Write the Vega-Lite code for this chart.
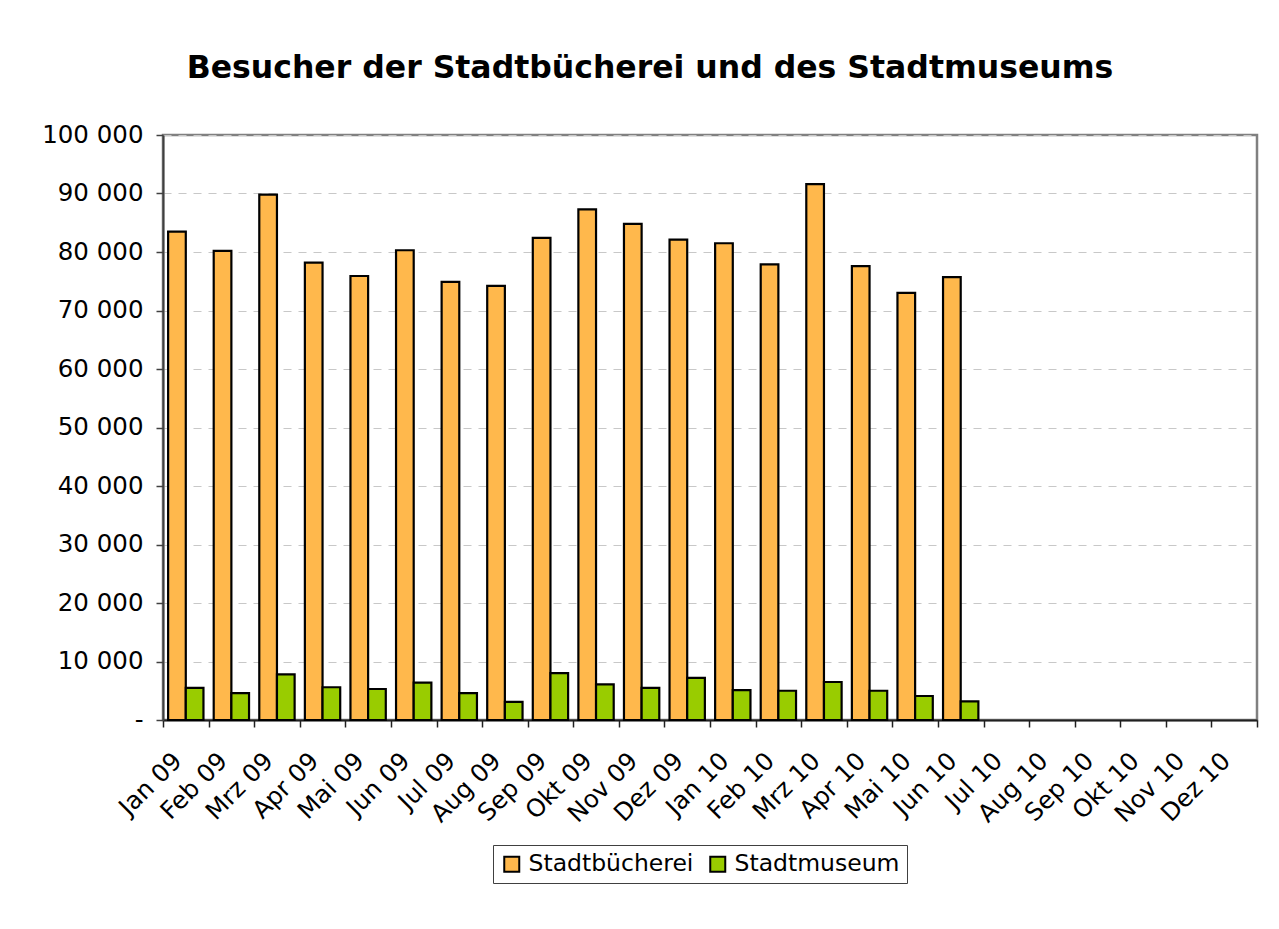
{
  "$schema": "https://vega.github.io/schema/vega-lite/v6.json",
  "width": 1094,
  "height": 585,
  "autosize": "none",
  "padding": {"left": 163, "top": 135, "right": 22, "bottom": 209},
  "background": "white",
  "title": {
    "text": "Besucher der Stadtbücherei und des Stadtmuseums",
    "font": "DejaVu Sans",
    "fontSize": 31.5,
    "fontWeight": "bold",
    "color": "black",
    "anchor": "middle",
    "dx": -60,
    "offset": 38
  },
  "data": {
    "values": [
      {"monat": "Jan 09", "einrichtung": "Stadtbücherei", "besucher": 83500},
      {"monat": "Feb 09", "einrichtung": "Stadtbücherei", "besucher": 80200},
      {"monat": "Mrz 09", "einrichtung": "Stadtbücherei", "besucher": 89800},
      {"monat": "Apr 09", "einrichtung": "Stadtbücherei", "besucher": 78200},
      {"monat": "Mai 09", "einrichtung": "Stadtbücherei", "besucher": 75900},
      {"monat": "Jun 09", "einrichtung": "Stadtbücherei", "besucher": 80300},
      {"monat": "Jul 09", "einrichtung": "Stadtbücherei", "besucher": 74900},
      {"monat": "Aug 09", "einrichtung": "Stadtbücherei", "besucher": 74200},
      {"monat": "Sep 09", "einrichtung": "Stadtbücherei", "besucher": 82400},
      {"monat": "Okt 09", "einrichtung": "Stadtbücherei", "besucher": 87300},
      {"monat": "Nov 09", "einrichtung": "Stadtbücherei", "besucher": 84800},
      {"monat": "Dez 09", "einrichtung": "Stadtbücherei", "besucher": 82100},
      {"monat": "Jan 10", "einrichtung": "Stadtbücherei", "besucher": 81500},
      {"monat": "Feb 10", "einrichtung": "Stadtbücherei", "besucher": 77900},
      {"monat": "Mrz 10", "einrichtung": "Stadtbücherei", "besucher": 91600},
      {"monat": "Apr 10", "einrichtung": "Stadtbücherei", "besucher": 77600},
      {"monat": "Mai 10", "einrichtung": "Stadtbücherei", "besucher": 73000},
      {"monat": "Jun 10", "einrichtung": "Stadtbücherei", "besucher": 75700},
      {"monat": "Jan 09", "einrichtung": "Stadtmuseum", "besucher": 5500},
      {"monat": "Feb 09", "einrichtung": "Stadtmuseum", "besucher": 4600},
      {"monat": "Mrz 09", "einrichtung": "Stadtmuseum", "besucher": 7800},
      {"monat": "Apr 09", "einrichtung": "Stadtmuseum", "besucher": 5600},
      {"monat": "Mai 09", "einrichtung": "Stadtmuseum", "besucher": 5300},
      {"monat": "Jun 09", "einrichtung": "Stadtmuseum", "besucher": 6400},
      {"monat": "Jul 09", "einrichtung": "Stadtmuseum", "besucher": 4600},
      {"monat": "Aug 09", "einrichtung": "Stadtmuseum", "besucher": 3100},
      {"monat": "Sep 09", "einrichtung": "Stadtmuseum", "besucher": 8000},
      {"monat": "Okt 09", "einrichtung": "Stadtmuseum", "besucher": 6100},
      {"monat": "Nov 09", "einrichtung": "Stadtmuseum", "besucher": 5500},
      {"monat": "Dez 09", "einrichtung": "Stadtmuseum", "besucher": 7200},
      {"monat": "Jan 10", "einrichtung": "Stadtmuseum", "besucher": 5100},
      {"monat": "Feb 10", "einrichtung": "Stadtmuseum", "besucher": 5000},
      {"monat": "Mrz 10", "einrichtung": "Stadtmuseum", "besucher": 6500},
      {"monat": "Apr 10", "einrichtung": "Stadtmuseum", "besucher": 5000},
      {"monat": "Mai 10", "einrichtung": "Stadtmuseum", "besucher": 4100},
      {"monat": "Jun 10", "einrichtung": "Stadtmuseum", "besucher": 3200}
    ]
  },
  "mark": {"type": "bar", "stroke": "black", "strokeWidth": 2.2},
  "encoding": {
    "x": {
      "field": "monat",
      "type": "nominal",
      "scale": {
        "domain": ["Jan 09", "Feb 09", "Mrz 09", "Apr 09", "Mai 09", "Jun 09", "Jul 09", "Aug 09", "Sep 09", "Okt 09", "Nov 09", "Dez 09", "Jan 10", "Feb 10", "Mrz 10", "Apr 10", "Mai 10", "Jun 10", "Jul 10", "Aug 10", "Sep 10", "Okt 10", "Nov 10", "Dez 10"],
        "paddingInner": 0,
        "paddingOuter": 0
      },
      "axis": {
        "title": null,
        "labelAngle": -45,
        "labelAlign": "right",
        "labelBaseline": "middle",
        "labelOffset": -8,
        "tickBand": "extent",
        "grid": false,
        "domainColor": "#202020",
        "domainWidth": 2,
        "tickColor": "#202020",
        "tickWidth": 1.5,
        "tickSize": 7,
        "labelPadding": 30,
        "labelFont": "DejaVu Sans",
        "labelFontSize": 24.5,
        "labelColor": "black"
      }
    },
    "xOffset": {
      "field": "einrichtung",
      "type": "nominal",
      "sort": ["Stadtbücherei", "Stadtmuseum"],
      "scale": {"paddingInner": 0, "paddingOuter": 0.29}
    },
    "y": {
      "field": "besucher",
      "type": "quantitative",
      "scale": {"domain": [0, 100000], "nice": false},
      "axis": {
        "title": null,
        "values": [0, 10000, 20000, 30000, 40000, 50000, 60000, 70000, 80000, 90000, 100000],
        "labelExpr": "datum.value == 0 ? '-' : replace(format(datum.value, ',d'), ',', ' ')",
        "grid": true,
        "gridDash": [8, 7],
        "gridColor": "#C8C8C8",
        "gridWidth": 1.2,
        "domainColor": "#404040",
        "domainWidth": 2,
        "tickColor": "#404040",
        "tickWidth": 1.5,
        "tickSize": 7,
        "labelPadding": 13,
        "labelFont": "DejaVu Sans",
        "labelFontSize": 24.5,
        "labelColor": "black"
      }
    },
    "fill": {
      "field": "einrichtung",
      "type": "nominal",
      "scale": {
        "domain": ["Stadtbücherei", "Stadtmuseum"],
        "range": ["#FFB84C", "#99CC00"]
      },
      "legend": {
        "title": null,
        "orient": "none",
        "legendX": 330,
        "legendY": 710,
        "direction": "horizontal",
        "symbolType": "square",
        "symbolSize": 225,
        "symbolStrokeColor": "black",
        "symbolStrokeWidth": 2,
        "symbolOpacity": 1,
        "labelFont": "DejaVu Sans",
        "labelFontSize": 23.5,
        "labelColor": "black",
        "labelLimit": 400,
        "columnPadding": 12,
        "labelOffset": 5,
        "strokeColor": "#404040",
        "padding": 7
      }
    }
  },
  "config": {
    "view": {"stroke": "#808080", "strokeWidth": 2.5}
  }
}
